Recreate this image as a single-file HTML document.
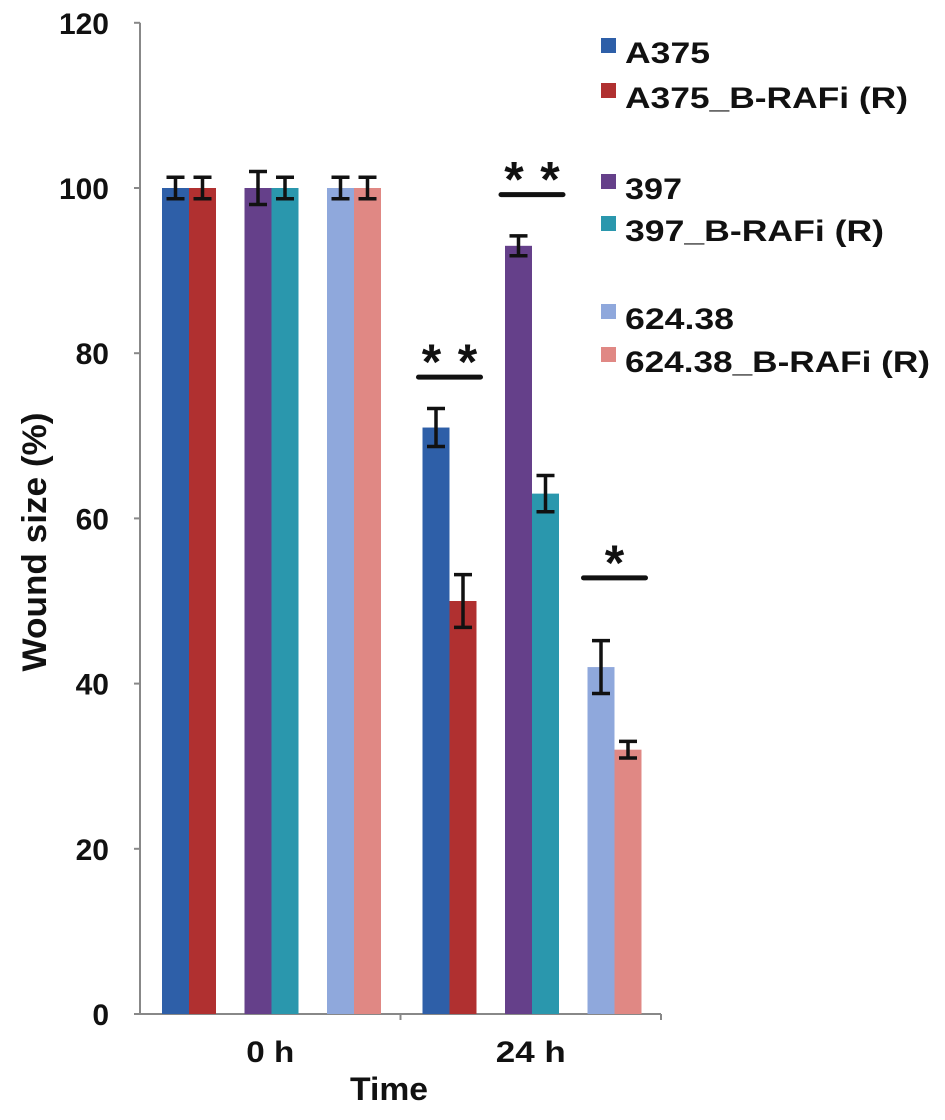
<!DOCTYPE html>
<html><head><meta charset="utf-8"><style>
body{margin:0;background:#fff}
svg text{font-family:"Liberation Sans",sans-serif;font-weight:bold;fill:#111}
</style></head><body>
<svg id="chart" width="945" height="1115">
<g id="g"></g>
</svg>
<script>
const categories=["0 h","24 h"];
const seriesNames=["A375","A375_B-RAFi (R)","397","397_B-RAFi (R)","624.38","624.38_B-RAFi (R)"];
const colors=["#2e5fa8","#b03030","#65408a","#2a97ad","#8fa8dc","#e08884"];
const values0=[100,100,100,100,100,100];
const values24=[71,50,93,63,42,32];
const errors0=[1.3,1.3,2,1.3,1.3,1.3];
const errors24=[2.3,3.2,1.2,2.2,3.2,1];
const yTicks=[0,20,40,60,80,100,120];
const sig=[{pair:0,label:"**",y:77.1},{pair:1,label:"**",y:99.2},{pair:2,label:"*",y:52.8}];

const NS="http://www.w3.org/2000/svg";
const g=document.getElementById('g');
const x0=140,catW=260.5,y0=1014,ppu=8.26,barW=27;
const yS=v=>y0-v*ppu;
const pairCenter=(c,p)=>x0+c*catW+49+p*82.5;
function mk(t,a,txt){const e=document.createElementNS(NS,t);for(const k in a)e.setAttribute(k,a[k]);if(txt!=null)e.textContent=txt;g.appendChild(e);return e;}

let e=mk('line',{x1:x0,y1:yS(120),x2:x0,y2:y0,stroke:'#888','stroke-width':2});

e=mk('line',{x1:x0-6,y1:y0,x2:x0+2*catW,y2:y0,stroke:'#888','stroke-width':2});

yTicks.forEach(t=>{
  e=mk('line',{x1:x0-6,y1:yS(t),x2:x0,y2:yS(t),stroke:'#888','stroke-width':2});
  
  e=mk('text',{x:109,y:yS(t)+11,'text-anchor':'end','font-size':30},t);
  
});
[1,2].forEach(i=>{e=mk('line',{x1:x0+i*catW,y1:y0,x2:x0+i*catW,y2:y0+6,stroke:'#888','stroke-width':2});
  });
const catLen=[48,70];
categories.forEach((c,i)=>{e=mk('text',{x:x0+catW*(i+0.5),y:1062,'text-anchor':'middle','font-size':30,textLength:catLen[i],lengthAdjust:'spacingAndGlyphs'},c);
  });
e=mk('text',{x:389,y:1100,'text-anchor':'middle','font-size':32,textLength:78,lengthAdjust:'spacingAndGlyphs'},'Time');

e=mk('text',{x:0,y:0,'text-anchor':'middle','font-size':34,textLength:259,lengthAdjust:'spacingAndGlyphs',transform:'translate(46,542) rotate(-90)'},'Wound size (%)');


[values0,values24].forEach((vals,c)=>{
  const errs=c?errors24:errors0;
  vals.forEach((v,i)=>{
    const p=Math.floor(i/2),side=i%2;
    const xl=pairCenter(c,p)-barW+side*barW;
    e=mk('rect',{x:xl,y:yS(v),width:barW,height:y0-yS(v),fill:colors[i]});
    
    
    const cx=xl+barW/2,er=errs[i];
    e=mk('path',{d:`M${cx},${yS(v+er)}V${yS(v-er)}M${cx-9},${yS(v+er)}H${cx+9}M${cx-9},${yS(v-er)}H${cx+9}`,stroke:'#111','stroke-width':3.5,fill:'none'});
    
  });
});
sig.forEach(s=>{
  const cx=pairCenter(1,s.pair);
  e=mk('line',{x1:cx-31,y1:yS(s.y),x2:cx+31,y2:yS(s.y),stroke:'#111','stroke-width':5,'stroke-linecap':'round'});
  
  const stars=s.label.split('');
  stars.forEach((st,k)=>{
    const sx=cx+(k-(stars.length-1)/2)*36;
    e=mk('text',{x:sx,y:yS(s.y)+2,'text-anchor':'middle','font-size':50},st);
    
  });
});
const legTop=[38,83,174,216,304,347];
const legLen=[85,283,57,259,109,305];
seriesNames.forEach((n,i)=>{
  e=mk('rect',{x:601,y:legTop[i],width:15,height:15,fill:colors[i]});
  
  e=mk('text',{x:625,y:legTop[i]+25,'font-size':30,textLength:legLen[i],lengthAdjust:'spacingAndGlyphs'},n);
  
});
</script>
</body></html>
